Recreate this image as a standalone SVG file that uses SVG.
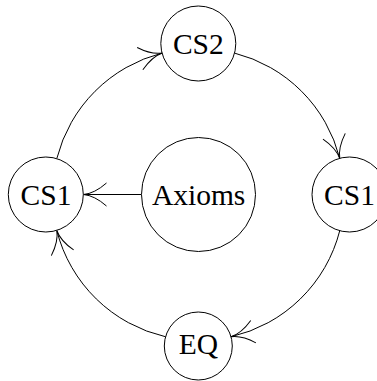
<svg xmlns="http://www.w3.org/2000/svg" width="377" height="381" viewBox="0 0 377 381">
<style>
.node circle{fill:#fff;stroke:#000;stroke-width:1}
.node text{font-family:"Liberation Serif","Times New Roman",serif;font-size:29.5px;text-anchor:middle;fill:#000}
.edge{fill:none;stroke:#000;stroke-width:1}
</style>
<defs>
<marker id="to" markerUnits="userSpaceOnUse" orient="auto" markerWidth="40" markerHeight="40" refX="0" refY="0" overflow="visible">
<path d="M-23,-11.5 Q-11,-1 0,0 Q-11,1 -23,11.5" fill="none" stroke="#000" stroke-width="1"/>
</marker>
</defs>
<g id="connectors">
<path class="edge" d="M56.8,158.5 A146,146 0 0 1 162.3,53" marker-end="url(#to)"/>
<path class="edge" d="M234.3,53 A146,146 0 0 1 339.8,158.5" marker-end="url(#to)"/>
<path class="edge" d="M339.8,230.5 A146,146 0 0 1 230.9,336.8" marker-end="url(#to)"/>
<path class="edge" d="M165.7,336.8 A146,146 0 0 1 56.8,230.5" marker-end="url(#to)"/>
<path class="edge" d="M141.3,194.5 L83.5,194.5" marker-end="url(#to)"/>
</g>
<g id="cs2" class="node"><circle cx="198.3" cy="43.5" r="37.5"/><text x="198.3" y="53.5">CS2</text></g>
<g id="cs1-left" class="node"><circle cx="45.8" cy="194.5" r="37.5"/><text x="46" y="204.8">CS1</text></g>
<g id="cs1-right" class="node"><circle cx="349.5" cy="194.5" r="37.5"/><text x="349.5" y="204.8">CS1</text></g>
<g id="axioms" class="node"><circle cx="198.5" cy="194.5" r="57"/><text x="198.6" y="204.8">Axioms</text></g>
<g id="eq" class="node"><circle cx="198.3" cy="346" r="34"/><text x="198.3" y="353.5">EQ</text></g>
</svg>
